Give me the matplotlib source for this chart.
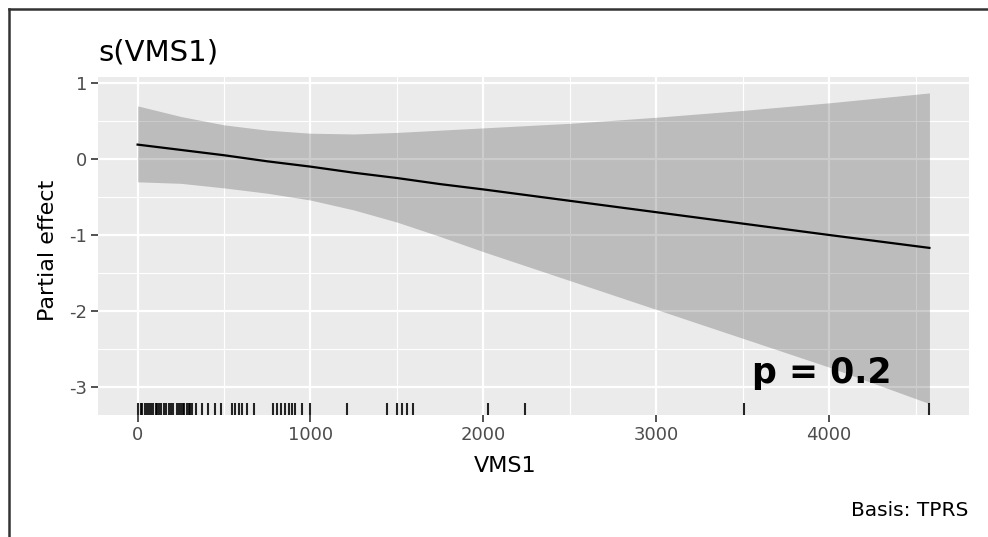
import numpy as np
import matplotlib
matplotlib.use("Agg")
import matplotlib.pyplot as plt
from matplotlib.lines import Line2D

plt.rcParams["axes.unicode_minus"] = False

# smooth estimate and confidence band
vms1 = [0, 250, 500, 750, 1000, 1250, 1500, 1750, 2000, 2500, 3000, 3500, 4000, 4580]
est = [0.19, 0.12, 0.05, -0.03, -0.10, -0.18, -0.25, -0.33, -0.40, -0.55, -0.70,
       -0.85, -1.00, -1.17]
upper = [0.70, 0.56, 0.45, 0.38, 0.34, 0.33, 0.35, 0.38, 0.41, 0.47, 0.55, 0.64,
         0.74, 0.87]
lower = [-0.30, -0.32, -0.38, -0.45, -0.54, -0.67, -0.83, -1.02, -1.22, -1.60,
         -1.98, -2.36, -2.74, -3.22]

# observed VMS1 values (rug)
rug = [0, 17, 27, 40, 56, 64, 75, 92, 104, 114, 121, 133, 150, 162, 179, 191,
       206, 229, 237, 249, 260, 266, 287, 295, 306, 316, 335, 374, 410, 445,
       480, 547, 566, 584, 605, 634, 671, 786, 808, 827, 855, 873, 894, 913,
       952, 1000, 1214, 1445, 1503, 1530, 1560, 1595, 2029, 2243, 3509, 4580]

xticks = [0, 1000, 2000, 3000, 4000]
yticks = [1, 0, -1, -2, -3]

W, H = 988, 537
fig = plt.figure(figsize=(W / 100, H / 100), dpi=100)
fig.patch.set_facecolor("white")

# panel in pixel coordinates of the reference
left, right, top, bottom = 98, 969, 77, 415
ax = fig.add_axes([left / W, 1 - bottom / H, (right - left) / W, (bottom - top) / H])
ax.set_facecolor("#EBEBEB")
for s in ax.spines.values():
    s.set_visible(False)

ax.set_xlim(-229, 4809)
ax.set_ylim(-3.37, 1.08)
ax.set_xticks(xticks)
ax.set_yticks(yticks)
ax.set_xticks([500, 1500, 2500, 3500, 4500], minor=True)
ax.set_yticks([0.5, -0.5, -1.5, -2.5], minor=True)
ax.grid(which="major", color="white", lw=1.6)
ax.grid(which="minor", color="white", lw=0.8)
ax.set_axisbelow(True)
ax.tick_params(which="major", length=5, width=1.2, color="#333333",
               labelsize=13, labelcolor="#4D4D4D", pad=3)
ax.tick_params(which="minor", length=0)

ax.fill_between(vms1, lower, upper, color="black", alpha=0.2, lw=0, zorder=2)
ax.plot(vms1, est, color="black", lw=1.6, zorder=3)
ax.vlines(rug, 0, 0.035, transform=ax.get_xaxis_transform(),
          color="black", alpha=0.85, lw=1.5, zorder=3)

fig.text(left / W, 1 - 61 / H, "s(VMS1)", fontsize=21, ha="left", va="baseline")
fig.text(505 / W, 1 - 466 / H, "VMS1", fontsize=16, ha="center", va="center")
fig.text(48 / W, 1 - 250 / H, "Partial effect", fontsize=16, rotation=90,
         ha="center", va="center")
fig.text(968 / W, 1 - 511 / H, "Basis: TPRS", fontsize=14.5, ha="right", va="center")
fig.text(822 / W, 1 - 383 / H, "p = 0.2", fontsize=25, fontweight="bold",
         family="DejaVu Sans", ha="center", va="baseline")

# outer frame of the screenshot (top and left edges)
fig.add_artist(Line2D([9 / W, 1], [1 - 9 / H, 1 - 9 / H], color="#333333", lw=1.8))
fig.add_artist(Line2D([9 / W, 9 / W], [0, 1 - 9 / H], color="#333333", lw=1.8))

fig.savefig("out.png", dpi=100)
